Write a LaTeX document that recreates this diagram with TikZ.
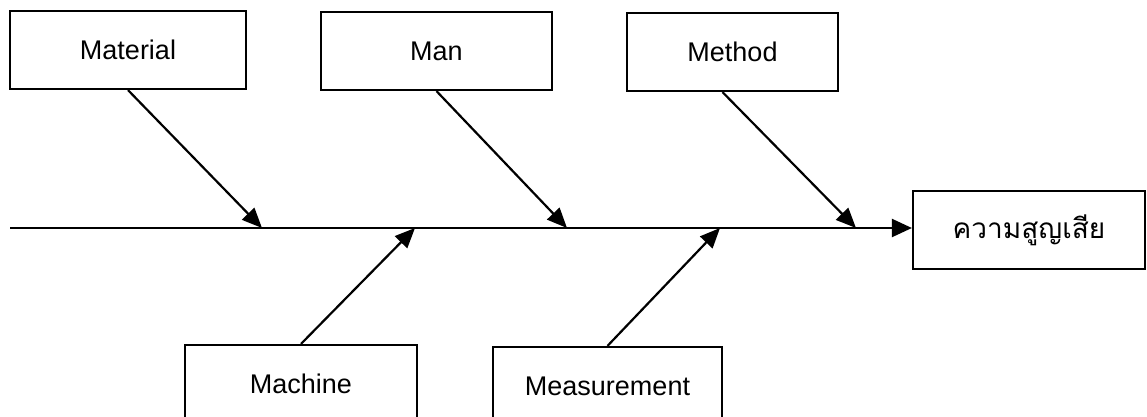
\documentclass[tikz,border=0pt]{standalone}
\usepackage{fontspec}
\setmainfont{Liberation Sans}
\newfontfamily\thaifont[Script=Thai]{Loma}
\usetikzlibrary{arrows.meta, calc}
\tikzset{
  every picture/.style={line width=1.1pt, font=\fontsize{13.5}{16}\selectfont},
  cause/.style={draw, minimum height=39pt, inner sep=0pt, align=center},
  effect/.style={cause, minimum width=116pt, font=\thaifont\fontsize{14}{16}\selectfont},
  bone/.style={-{Triangle[length=10pt, width=8.5pt]}},
  spine/.style={-{Triangle[length=10pt, width=9pt]}},
}
\begin{document}
\begin{tikzpicture}[x=0.5pt, y=-0.5pt]
  \useasboundingbox (0,0) rectangle (1147,417);
  \node[cause, minimum width=118pt] (material) at (128, 50) {Material};
  \node[cause, minimum width=115.5pt] (man) at (436.5, 51) {Man};
  \node[cause, minimum width=105.5pt] (method) at (732.5, 52) {Method};
  \node[cause, minimum width=116pt] (machine) at (301, 384) {Machine};
  \node[cause, minimum width=114.5pt] (measure) at (607.5, 386) {Measurement};
  \node[effect] (loss) at (1029, 230) {ความสูญเสีย};
  \coordinate (tail) at (10, 228);
  \coordinate (p1) at (262, 228); \coordinate (p2) at (415, 228);
  \coordinate (p3) at (567, 228); \coordinate (p4) at (720, 228);
  \coordinate (p5) at (856, 228);
  \draw[spine] (tail) -- (tail -| loss.west);
  \draw[bone] (material.south) -- (p1); \draw[bone] (man.south) -- (p3);
  \draw[bone] ([xshift=-5pt]method.south) -- (p5);
  \draw[bone] (machine.north) -- (p2); \draw[bone] (measure.north) -- (p4);
\end{tikzpicture}
\end{document}
